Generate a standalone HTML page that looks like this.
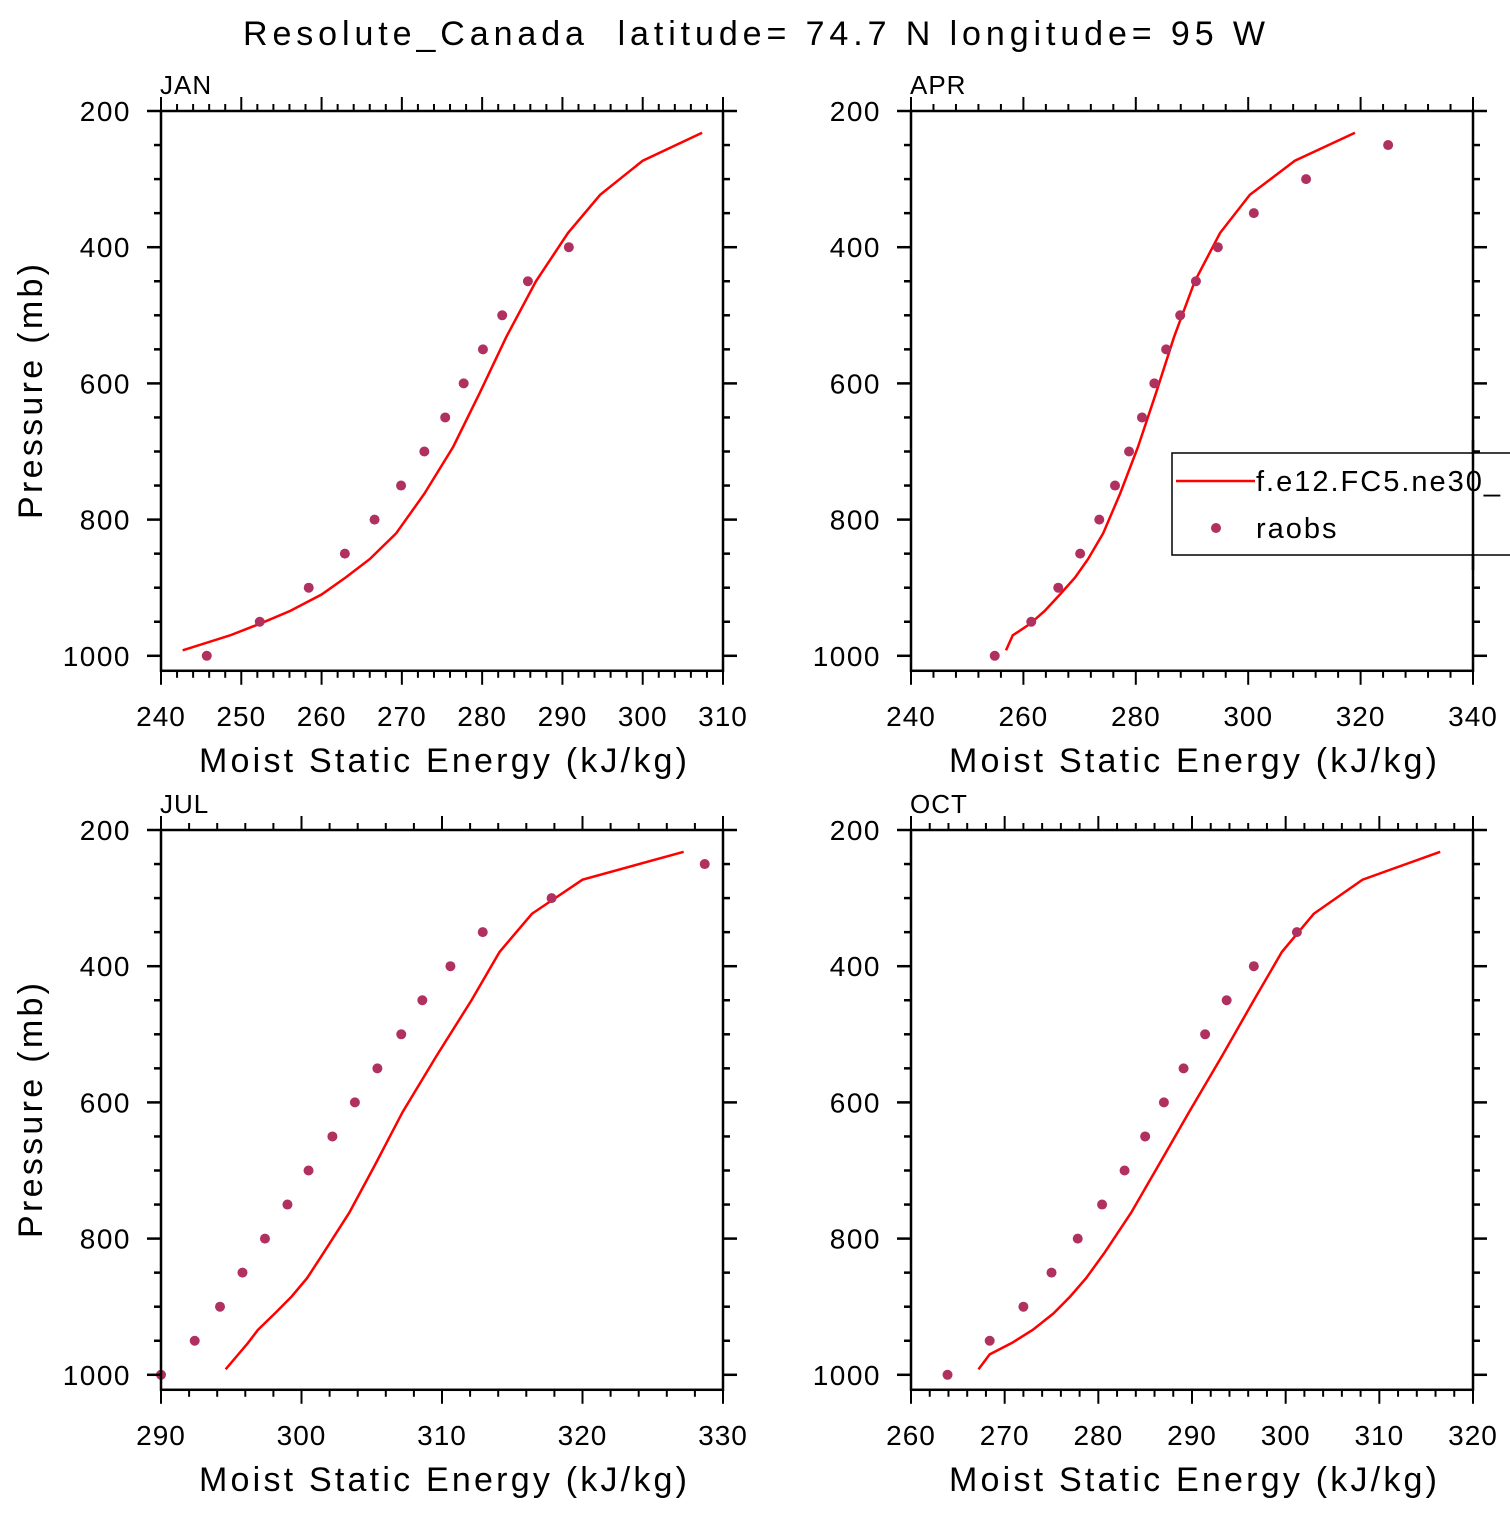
<!DOCTYPE html>
<html><head><meta charset="utf-8"><style>
html,body{margin:0;padding:0;background:#fff;}
svg text{font-family:"Liberation Sans",sans-serif;fill:#000;white-space:pre;}
</style></head><body>
<svg id="chart" width="1510" height="1510" viewBox="0 0 1510 1510" xmlns="http://www.w3.org/2000/svg">
<rect width="1510" height="1510" fill="#fff"/>
<text x="243" y="45" font-size="34" textLength="1022" lengthAdjust="spacing" xml:space="preserve">Resolute_Canada  latitude= 74.7 N longitude= 95 W</text>
</svg>
<script>
const modelLevels = [992,970,953,934,910,885,858,820,762,693,614,532,450,379,323,273,232];
const obsLevels = [1000,950,900,850,800,750,700,650,600,550,500,450,400,350,300,250];
const janModel = [242.7,248.6,252.3,256.1,260.0,263.0,266.0,269.3,272.8,276.4,279.7,283.0,286.7,290.7,294.7,300.0,307.4];
const janObs = [245.7,252.3,258.4,262.9,266.6,269.9,272.8,275.4,277.7,280.1,282.5,285.7,290.8];
const aprModel = [256.9,258.1,261.2,263.8,266.5,269.2,271.5,274.2,277.2,280.4,283.6,286.8,290.5,295.0,300.3,308.3,319.0];
const aprObs = [254.9,261.4,266.2,270.1,273.5,276.3,278.8,281.1,283.3,285.4,287.9,290.7,294.6,301.0,310.3,324.9];
const julModel = [294.6,295.5,296.2,296.9,298.1,299.3,300.4,301.6,303.4,305.2,307.2,309.6,312.1,314.1,316.4,320.0,327.2];
const julObs = [290.0,292.4,294.2,295.8,297.4,299.0,300.5,302.2,303.8,305.4,307.1,308.6,310.6,312.9,317.8,328.7];
const octModel = [267.2,268.4,270.8,273.0,275.2,277.0,278.7,280.7,283.5,286.4,289.7,293.2,296.6,299.6,303.0,308.2,316.5];
const octObs = [263.9,268.4,272.0,275.0,277.8,280.4,282.8,285.0,287.0,289.1,291.4,293.7,296.6,301.2];
const yTicks = [200,400,600,800,1000];
const janX = [240,250,260,270,280,290,300,310];
const aprX = [240,260,280,300,320,340];
const julX = [290,300,310,320,330];
const octX = [260,270,280,290,300,310,320];

const NS="http://www.w3.org/2000/svg";
const svg=document.getElementById('chart');
function mk(tag,attrs,parent){const e=document.createElementNS(NS,tag);for(const k in attrs)e.setAttribute(k,attrs[k]);(parent||svg).appendChild(e);return e;}

const panels=[
 {name:'jan',label:'JAN',x0:161,y0:111,xmin:240,xmax:310,minor:2,ticks:janX,model:janModel,obs:janObs,ylab:true},
 {name:'apr',label:'APR',x0:911,y0:111,xmin:240,xmax:340,minor:4,ticks:aprX,model:aprModel,obs:aprObs,ylab:false},
 {name:'jul',label:'JUL',x0:161,y0:830,xmin:290,xmax:330,minor:2,ticks:julX,model:julModel,obs:julObs,ylab:true},
 {name:'oct',label:'OCT',x0:911,y0:830,xmin:260,xmax:320,minor:2,ticks:octX,model:octModel,obs:octObs,ylab:false}
];
const W=562, PPM=0.681, PMAX=1022;
panels.forEach(p=>{
 const g=mk('g',{});
 
 
 const H=(PMAX-200)*PPM;
 const xs=v=>p.x0+(v-p.xmin)/(p.xmax-p.xmin)*W;
 const ys=v=>p.y0+(v-200)*PPM;
 const yb=p.y0+H;
 const line=mk('polyline',{points:p.model.map((v,i)=>xs(v)+','+ys(modelLevels[i])).join(' '),fill:'none',stroke:'#ff0000','stroke-width':2.5},g);
 
 
 p.obs.forEach((v,i)=>{
  const c=mk('circle',{cx:xs(v),cy:ys(obsLevels[i]),r:5,fill:'#b03060'},g);
  
  
 });
 const fr=mk('rect',{x:p.x0,y:p.y0,width:W,height:H,fill:'none',stroke:'#000','stroke-width':2.5},g);
 
 
 for(let v=200;v<=1000;v+=50){
  const y=ys(v),L=(v%200===0)?14:7;
  mk('line',{x1:p.x0-L,y1:y,x2:p.x0,y2:y,stroke:'#000','stroke-width':2.5},g);
  mk('line',{x1:p.x0+W,y1:y,x2:p.x0+W+L,y2:y,stroke:'#000','stroke-width':2.5},g);
 }
 yTicks.forEach(v=>{
  const t=mk('text',{x:p.x0-30,y:ys(v)+10,'font-size':28,'letter-spacing':1.5,'text-anchor':'end'},g);
  t.textContent=v;
  
  
 });
 const step=p.ticks[1]-p.ticks[0];
 for(let v=p.xmin;v<=p.xmax+1e-6;v+=p.minor){
  const x=xs(v),maj=Math.abs(((v-p.xmin)%step))<1e-6,L=maj?14:7;
  mk('line',{x1:x,y1:p.y0-L,x2:x,y2:p.y0,stroke:'#000','stroke-width':2},g);
  mk('line',{x1:x,y1:yb,x2:x,y2:yb+L,stroke:'#000','stroke-width':2},g);
 }
 p.ticks.forEach(v=>{
  const t=mk('text',{x:xs(v),y:yb+55,'font-size':28,'letter-spacing':1,'text-anchor':'middle'},g);
  t.textContent=v;
  
  
 });
 const xt=mk('text',{x:p.x0+38,y:yb+101,'font-size':34,textLength:488,lengthAdjust:'spacing'},g);
 xt.textContent='Moist Static Energy (kJ/kg)';
 
 
 const lb=mk('text',{x:p.x0-1,y:p.y0-17,'font-size':26,'letter-spacing':1},g);
 lb.textContent=p.label;
 
 
 if(p.ylab){
  const cy=p.y0+281;
  const yt=mk('text',{x:-127,y:0,'font-size':34,textLength:255,lengthAdjust:'spacing',transform:'translate(42,'+cy+') rotate(-90)'},g);
  yt.textContent='Pressure (mb)';
  
  
 }
});
const lg=mk('g',{});


mk('rect',{x:1172,y:453,width:400,height:102,fill:'#fff',stroke:'#000','stroke-width':1.5},lg);
mk('line',{x1:1176,y1:481,x2:1255,y2:481,stroke:'#ff0000','stroke-width':2.5},lg);
const l1=mk('text',{x:1256,y:491,'font-size':29,'letter-spacing':2},lg);
l1.textContent='f.e12.FC5.ne30_';


mk('circle',{cx:1216,cy:528,r:5,fill:'#b03060'},lg);
const l2=mk('text',{x:1256,y:538,'font-size':29,'letter-spacing':2},lg);
l2.textContent='raobs';


mk('line',{x1:1473,y1:440,x2:1473,y2:570,stroke:'#000','stroke-width':2.5},lg);
</script>
</body></html>
